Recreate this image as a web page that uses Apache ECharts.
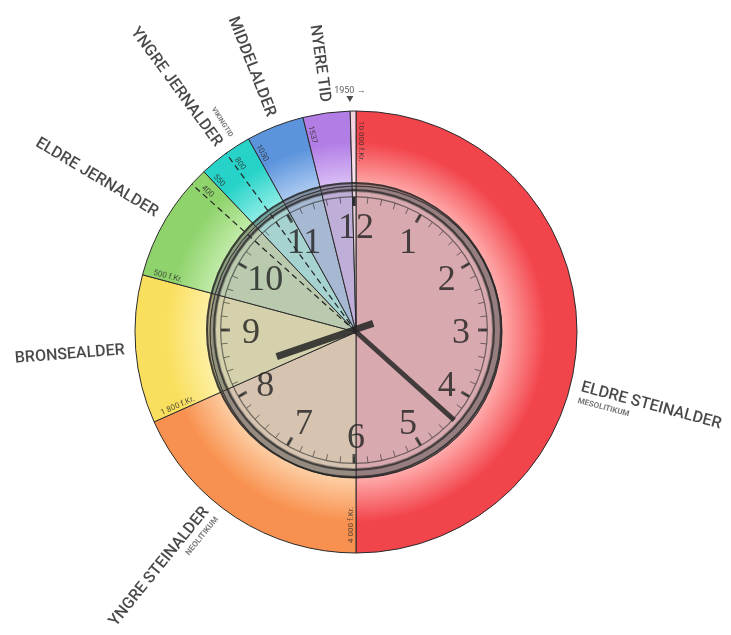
<!DOCTYPE html>
<html><head><meta charset="utf-8">
<script src="https://cdn.jsdelivr.net/npm/echarts@6/dist/echarts.min.js"></script>
<style>html,body{margin:0;padding:0;background:#fff}#c{width:731px;height:635px}#err{position:absolute;left:0;top:0;font:11px monospace;color:#c00;white-space:pre-wrap;width:700px}</style>
</head><body><div id="c"></div><div id="err"></div>
<script>
window.onerror = function(m, s, l, c, e){ document.getElementById('err').textContent += m + ' @' + l + ':' + c + '\n'; };
// ---- data ----
const periodNames = ['ELDRE STEINALDER','YNGRE STEINALDER','BRONSEALDER','ELDRE JERNALDER','YNGRE JERNALDER','MIDDELALDER','NYERE TID',''];
const periodSub   = ['MESOLITIKUM','NEOLITIKUM','','','','','',''];
const periodStart = [-10000,-4000,-1800,-500,550,1030,1537,1950];
const periodEnd   = [-4000,-1800,-500,550,1030,1537,1950,2000];
const subPeriodNames = ['VIKINGTID'];
const subPeriodStart = [800];
const subPeriodEnd   = [1030];
const dashedYears = [400, 800];
const boundaryYears  = [-10000,-4000,-1800,-500,400,550,800,1030,1537];
const boundaryLabels = ['10 000 f.Kr.','4 000 f.Kr.','1 800 f.Kr.','500 f.Kr.','400','550','800','1030','1537'];
const markerYear = 1950;
const markerLabel = '1950';
const clockNumbers = ['1','2','3','4','5','6','7','8','9','10','11','12'];
const clockTime = [8, 22];
const scaleStart = -10000, scaleEnd = 2000;

// ---- styles ----
const CX = 356, CY = 332, R = 221, R_IN = 146, RP = 260;
const baseColors  = ['#f2444b','#f8914f','#fadf5e','#8fd36c','#27d3c8','#5b93dc','#b27ee6','#f7d2de'];
const lightColors = ['#ffabab','#fdcfa5','#fdf1a8','#c6edae','#97efe8','#b2cef2','#dcc2f6','#fbe8ee'];
const innerColors = ['#d8a9ae','#d6c3b0','#d4d1ac','#b9caae','#a6d3d0','#a7b8d3','#bfaed8','#e6cfd8'];
const nameShift = {'ELDRE STEINALDER': 15, 'YNGRE STEINALDER': 6};
const nameFont = "'Roboto','Liberation Sans',sans-serif";

function theta(y){ return (y - scaleStart) / (scaleEnd - scaleStart) * 360; }
function yearAt(th){ return scaleStart + th / 360 * (scaleEnd - scaleStart); }
function norm(a){ while (a <= -180) a += 360; while (a > 180) a -= 360; return a; }
function radialRot(th, outward){ return norm(outward ? 90 - th : -90 - th); }

function grad(i){
  return {type:'radial', x:CX, y:CY, r:R, global:true, colorStops:[
    {offset:0, color:lightColors[i]},
    {offset:R_IN/R, color:lightColors[i]},
    {offset:0.86, color:baseColors[i]},
    {offset:1, color:baseColors[i]}
  ]};
}

const ringData = periodNames.map((n,i)=>({name:'p'+i, value: periodEnd[i]-periodStart[i],
  itemStyle:{color:grad(i), borderColor:'#2b2b2b', borderWidth:1}}));
const innerData = periodNames.map((n,i)=>({name:'p'+i, value: periodEnd[i]-periodStart[i],
  itemStyle:{color:innerColors[i], borderColor:'#2b2b2b', borderWidth:1}}));

// name labels
const nameData = [];
periodNames.forEach((n,i)=>{
  if (!n) return;
  const mid = (theta(periodStart[i]) + theta(periodEnd[i]))/2 + (nameShift[n]||0);
  const right = mid < 180;
  const txt = periodSub[i] ? '{m|'+n+'}\n{s|'+periodSub[i]+'}' : '{m|'+n+'}';
  nameData.push({value:[232, yearAt(mid)], label:{formatter:txt, rotate:radialRot(mid, right), align: right?'left':'right'}});
});
subPeriodNames.forEach((n,i)=>{
  const mid = (theta(subPeriodStart[i]) + theta(subPeriodEnd[i]))/2;
  const right = mid < 180;
  nameData.push({value:[232, yearAt(mid)], label:{formatter:'{v|'+n+'}', rotate:radialRot(mid, right), align: right?'left':'right'}});
});
const boundData = boundaryYears.map((y,i)=>({value:[211, y],
  label:{formatter:boundaryLabels[i], rotate:radialRot(theta(y), false)}}));

const clockC = [354, 330];
const numC = [356, 334];
const hidden = {axisLine:{show:false}, axisTick:{show:false}, splitLine:{show:false}, axisLabel:{show:false},
  pointer:{show:false}, anchor:{show:false}, title:{show:false}, detail:{show:false}};
function ringGauge(radius, width, color){
  return Object.assign({}, hidden, {type:'gauge', z:5, center:clockC, radius:radius, startAngle:90, endAngle:-270, silent:true,
    axisLine:{show:true, lineStyle:{width:width, color:[[1,color]]}}, data:[{value:0}]});
}

const series = [
  {type:'pie', center:[CX,CY], radius:[0,R_IN], startAngle:90, clockwise:true, silent:true, z:1,
   label:{show:false}, labelLine:{show:false}, data:innerData},
  {type:'pie', center:[CX,CY], radius:[R_IN,R], startAngle:90, clockwise:true, silent:true, z:1,
   label:{show:false}, labelLine:{show:false}, data:ringData}
];
dashedYears.forEach(y=>{
  series.push({type:'line', coordinateSystem:'polar', silent:true, symbol:'none', z:2,
    lineStyle:{color:'#222', width:1.2, type:[6,4]}, data:[[0,y],[R,y]]});
});
series.push(
  ringGauge(148, 10, 'rgba(70,70,70,0.45)'),
  ringGauge(148, 2, 'rgba(30,30,30,0.75)'),
  ringGauge(141, 2, 'rgba(30,30,30,0.7)'),
  ringGauge(134, 1.2, 'rgba(40,40,40,0.6)'),
  // ticks + hour hand
  Object.assign({}, hidden, {type:'gauge', z:6, center:clockC, radius:146, startAngle:90, endAngle:-270, min:0, max:12, splitNumber:12, silent:true,
   axisLine:{show:true, lineStyle:{width:8, color:[[1,'rgba(0,0,0,0)']]}},
   splitLine:{show:true, distance:5, length:9, lineStyle:{width:3, color:'rgba(40,40,40,0.75)'}},
   axisTick:{show:true, distance:5, length:6, splitNumber:5, lineStyle:{width:1, color:'rgba(40,40,40,0.6)'}},
   pointer:{show:true, icon:'rect', length:'56%', width:7, itemStyle:{color:'rgba(40,40,40,0.88)'}},
   data:[{value: clockTime[0] + clockTime[1]/60}]}),
  // numerals
  Object.assign({}, hidden, {type:'gauge', z:6, center:numC, radius:146, startAngle:90, endAngle:-270, min:0, max:12, splitNumber:12, silent:true,
   axisLine:{show:true, lineStyle:{width:8, color:[[1,'rgba(0,0,0,0)']]}},
   splitLine:{show:false, distance:5, length:9},
   axisLabel:{show:true, distance:26, formatter:function(v){ return v===0 ? '' : '{n|' + clockNumbers[v-1] + '}'; },
     rich:{n:{width:2, height:2, lineHeight:2, align:'center', verticalAlign:'middle', fontSize:36,
       fontFamily:"'Liberation Serif','DejaVu Serif',serif", color:'rgba(35,35,35,0.82)'}}},
   data:[{value:0}]}),
  Object.assign({}, hidden, {type:'gauge', z:6, center:clockC, radius:145, startAngle:90, endAngle:-270, min:0, max:12, silent:true,
   pointer:{show:true, icon:'rect', length:'14%', width:7, itemStyle:{color:'rgba(40,40,40,0.88)'}},
   data:[{value: (clockTime[0] + clockTime[1]/60 + 6) % 12}]}),
  Object.assign({}, hidden, {type:'gauge', z:6, center:clockC, radius:145, startAngle:90, endAngle:-270, min:0, max:60, silent:true,
   pointer:{show:true, icon:'rect', length:'93%', width:5, itemStyle:{color:'rgba(40,40,40,0.85)'}},
   data:[{value: clockTime[1]}]}),
  {type:'scatter', coordinateSystem:'polar', clip:false, symbolSize:1, itemStyle:{color:'rgba(0,0,0,0)'}, silent:true, z:7,
   label:{show:true, position:'inside', align:'left', verticalAlign:'bottom', padding:[0,0,1,0],
     fontSize:8, color:'#2a2a2a', fontFamily:nameFont},
   data:boundData},
  {type:'scatter', coordinateSystem:'polar', clip:false, symbolSize:1, itemStyle:{color:'rgba(0,0,0,0)'}, silent:true, z:7,
   label:{show:true, position:'inside', verticalAlign:'middle',
     rich:{m:{fontSize:16, color:'#1a1a1a', fontWeight:500, fontFamily:nameFont, lineHeight:18},
           s:{fontSize:8, color:'#555', fontWeight:'bold', fontFamily:nameFont, lineHeight:10},
           v:{fontSize:7, color:'#555', fontWeight:'bold', fontFamily:nameFont}}},
   data:nameData},
  {type:'scatter', coordinateSystem:'polar', clip:false, symbol:'triangle', symbolRotate:180, symbolSize:[7,6],
   itemStyle:{color:'#222'}, silent:true, z:7,
   label:{show:true, position:'top', distance:1, formatter: markerLabel + ' \u2192', fontSize:9, color:'#333', fontFamily:nameFont},
   data:[[233, markerYear]]}
);

const option = {
  animation:false,
  backgroundColor:'#fff',
  polar:{center:[CX,CY], radius:[0,RP]},
  angleAxis:{type:'value', min:scaleStart, max:scaleEnd, startAngle:90, clockwise:true, show:false},
  radiusAxis:{type:'value', min:0, max:RP, show:false},
  series: series
};
try {
  const chart = echarts.init(document.getElementById('c'), null, {renderer:'canvas'});
  chart.setOption(option);
} catch(e) { document.getElementById('err').textContent += 'ERR ' + e.message + '\n'; }
</script></body></html>
